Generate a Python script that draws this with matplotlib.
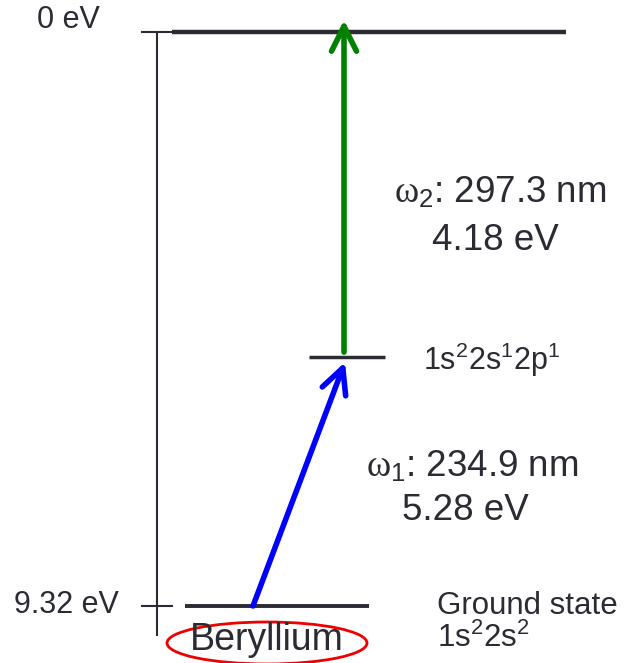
import matplotlib
matplotlib.use("Agg")
import matplotlib.pyplot as plt
from matplotlib.patches import Ellipse

plt.rcParams['font.family'] = ['Liberation Sans', 'DejaVu Sans']
plt.rcParams['mathtext.fontset'] = 'custom'
plt.rcParams['mathtext.rm'] = 'Liberation Sans'
plt.rcParams['mathtext.it'] = 'Liberation Serif'

# Data (energy in eV, drawn positions of the levels)
axis_ticks = [0.0, -9.32]
axis_tick_labels = ["0 eV", "9.32 eV"]
level_top = 0.0
level_mid = -5.28
level_ground = -9.32
transition_nm = [234.9, 297.3]
transition_ev = [5.28, 4.18]
mid_config = r"$\mathrm{1s^{2}2s^{1}2p^{1}}$"
ground_config = r"$\mathrm{1s^{2}2s^{2}}$"
element = "Beryllium"

TEXT = '#2b2b33'
LEVEL = '#2b2b33'
FS = 22
FS_T = 26.5

fig = plt.figure(figsize=(6.36, 6.63), dpi=100)
ax = fig.add_axes([0, 0, 1, 1])
scale = 9.32 / 574.0  # eV per pixel
ax.set_xlim(0, 636)
ax.set_ylim(-(663 - 32) * scale, 32 * scale)
ax.axis('off')

# energy axis
ax.plot([157, 157], [level_top, -(635 - 32) * scale], color=TEXT, lw=1.5)
for t, lab in zip(axis_ticks, axis_tick_labels):
    ax.plot([142, 172], [t, t], color=TEXT, lw=1.5)
ax.text(100, axis_ticks[0] + 12 * scale, axis_tick_labels[0], ha='right', va='center',
        fontsize=FS, color=TEXT)
ax.text(119, axis_ticks[1] + 1 * scale, axis_tick_labels[1], ha='right', va='center',
        fontsize=FS, color=TEXT)

# levels
ax.plot([172, 566], [level_top, level_top], color=LEVEL, lw=3.2, solid_capstyle='butt')
ax.plot([309, 385], [level_mid, level_mid], color=LEVEL, lw=2.5, solid_capstyle='butt')
ax.plot([185, 369], [level_ground, level_ground], color=LEVEL, lw=2.8, solid_capstyle='butt')

# transitions
ax.annotate('', xy=(345, level_mid - 5 * scale), xytext=(253, level_ground),
            arrowprops=dict(arrowstyle='->,head_length=0.9,head_width=0.45',
                            mutation_scale=20, lw=4, color='#0000ff',
                            shrinkA=0, shrinkB=0))
ax.annotate('', xy=(344, level_top + 12 * scale), xytext=(344, level_mid + 5 * scale),
            arrowprops=dict(arrowstyle='->,head_length=0.9,head_width=0.45',
                            mutation_scale=20, lw=4, color='#008000',
                            shrinkA=0, shrinkB=0))

# transition labels
ax.text(500, -(193 - 32) * scale, r"$\omega_{2}$" + f": {transition_nm[1]} nm",
        ha='center', va='center', fontsize=FS_T, color=TEXT)
ax.text(495, -(240 - 32) * scale, f"{transition_ev[1]} eV",
        ha='center', va='center', fontsize=FS_T, color=TEXT)
ax.text(472, -(467 - 32) * scale, r"$\omega_{1}$" + f": {transition_nm[0]} nm",
        ha='center', va='center', fontsize=FS_T, color=TEXT)
ax.text(465, -(510 - 32) * scale, f"{transition_ev[0]} eV",
        ha='center', va='center', fontsize=FS_T, color=TEXT)

# configurations
ax.text(423, level_mid - 3 * scale, mid_config, ha='left', va='center',
        fontsize=FS, color=TEXT)
ax.text(437, level_ground, "Ground state", ha='left', va='center',
        fontsize=FS + 0.5, color=TEXT)
ax.text(437, level_ground - 32 * scale, ground_config, ha='left', va='center',
        fontsize=FS + 0.5, color=TEXT)

# element label
ax.text(267, level_ground - 34 * scale, element, ha='center', va='center',
        fontsize=27, color=TEXT)
ax.add_patch(Ellipse((267, level_ground - 37 * scale), 200, 42 * scale,
                     fill=False, edgecolor='#ee0000', lw=2))

fig.savefig('out.png', dpi=100)
